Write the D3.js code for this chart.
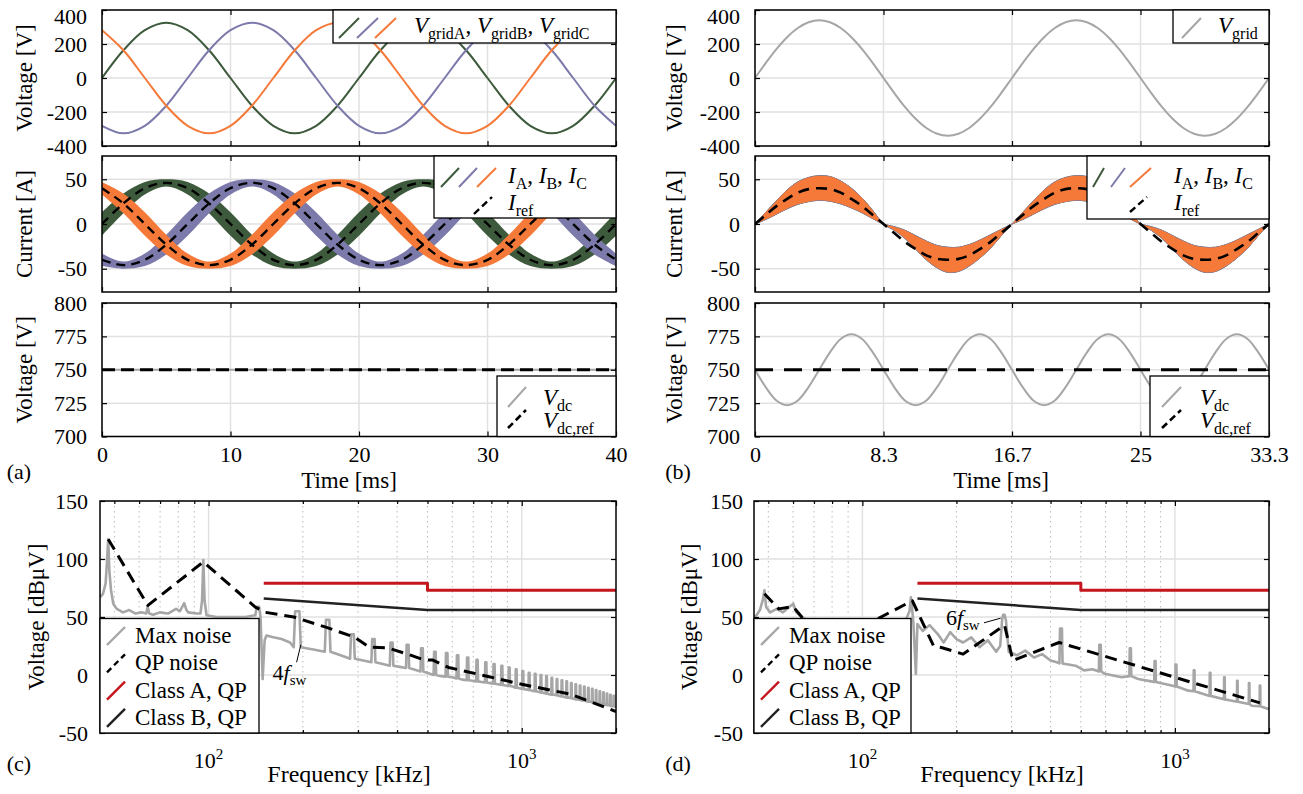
<!DOCTYPE html>
<html>
<head>
<meta charset="utf-8">
<title>Converter waveforms and conducted emissions</title>
<script src="https://cdn.jsdelivr.net/npm/d3@7/dist/d3.min.js"></script>
<style>
  body { margin: 0; background: #fff; }
  svg { font-family: 'Liberation Serif', 'Times New Roman', serif; }
  text, tspan { white-space: pre; }
</style>
</head>
<body>
<svg id="fig" width="1303" height="794"></svg>
<script>
// ---- (a) three-phase, 50 Hz, samples every 1.667 ms ----
const tA = [0, 1.667, 3.333, 5, 6.667, 8.333, 10, 11.667, 13.333, 15, 16.667, 18.333, 20, 21.667, 23.333, 25, 26.667, 28.333, 30, 31.667, 33.333, 35, 36.667, 38.333, 40]
const vGridA = [0, 163, 281, 325, 281, 163, 0, -163, -281, -325, -281, -163, 0, 163, 281, 325, 281, 163, 0, -163, -281, -325, -281, -163, 0]
const vGridB = [-281, -325, -281, -163, 0, 163, 281, 325, 281, 163, 0, -163, -281, -325, -281, -163, 0, 163, 281, 325, 281, 163, 0, -163, -281]
const vGridC = [281, 163, 0, -163, -281, -325, -281, -163, 0, 163, 281, 325, 281, 163, 0, -163, -281, -325, -281, -163, 0, 163, 281, 325, 281]
const iA = [0, 23, 40, 46, 40, 23, 0, -23, -40, -46, -40, -23, 0, 23, 40, 46, 40, 23, 0, -23, -40, -46, -40, -23, 0]
const iB = [-40, -46, -40, -23, 0, 23, 40, 46, 40, 23, 0, -23, -40, -46, -40, -23, 0, 23, 40, 46, 40, 23, 0, -23, -40]
const iC = [40, 23, 0, -23, -40, -46, -40, -23, 0, 23, 40, 46, 40, 23, 0, -23, -40, -46, -40, -23, 0, 23, 40, 46, 40]
// half width of the switching ripple band
const rippleA = [13, 11, 7, 4, 7, 11, 13, 11, 7, 4, 7, 11, 13, 11, 7, 4, 7, 11, 13, 11, 7, 4, 7, 11, 13]
const rippleB = [7, 4, 7, 11, 13, 11, 7, 4, 7, 11, 13, 11, 7, 4, 7, 11, 13, 11, 7, 4, 7, 11, 13, 11, 7]
const rippleC = [7, 11, 13, 11, 7, 4, 7, 11, 13, 11, 7, 4, 7, 11, 13, 11, 7, 4, 7, 11, 13, 11, 7, 4, 7]
const tDcA = [0, 40]
const vDcA = [750, 750]
const vDcRefA = [750, 750]

// ---- (b) single-phase, 60 Hz, samples every 0.694 ms ----
const tB = [0, 0.694, 1.389, 2.083, 2.778, 3.472, 4.167, 4.861, 5.556, 6.25, 6.944, 7.639, 8.333, 9.028, 9.722, 10.417, 11.111, 11.806, 12.5, 13.194, 13.889, 14.583, 15.278, 15.972, 16.667, 17.361, 18.056, 18.75, 19.444, 20.139, 20.833, 21.528, 22.222, 22.917, 23.611, 24.306, 25, 25.694, 26.389, 27.083, 27.778, 28.472, 29.167, 29.861, 30.556, 31.25, 31.944, 32.639, 33.333]
const vGrid1 = [0, 88, 170, 240, 294, 328, 340, 328, 294, 240, 170, 88, 0, -88, -170, -240, -294, -328, -340, -328, -294, -240, -170, -88, 0, 88, 170, 240, 294, 328, 340, 328, 294, 240, 170, 88, 0, -88, -170, -240, -294, -328, -340, -328, -294, -240, -170, -88, 0]
const iOuter1 = [0, 13, 26, 38, 47, 52, 54, 53, 48, 40, 29, 15, 0, -7, -16, -28, -40, -49, -54, -53, -47, -38, -27, -13, 0, 13, 26, 38, 47, 52, 54, 53, 48, 40, 29, 15, 0, -7, -16, -28, -40, -49, -54, -53, -47, -38, -27, -13, 0]
const iInner1 = [0, 5, 11, 17, 22, 25, 26.5, 25.5, 22.5, 18, 12.5, 6, 0, -3, -7, -13, -19, -24, -26, -26, -23, -18, -12, -6, 0, 5, 11, 17, 22, 25, 26.5, 25.5, 22.5, 18, 12.5, 6, 0, -3, -7, -13, -19, -24, -26, -26, -23, -18, -12, -6, 0]
const iRef1 = [0, 10, 20, 28, 35, 39, 40, 39, 35, 28, 20, 10, 0, -10, -20, -28, -35, -39, -40, -39, -35, -28, -20, -10, 0, 10, 20, 28, 35, 39, 40, 39, 35, 28, 20, 10, 0, -10, -20, -28, -35, -39, -40, -39, -35, -28, -20, -10, 0]
const vDc1 = [750, 737, 727, 723.5, 727, 737, 750, 763, 773, 776.5, 773, 763, 750, 737, 727, 723.5, 727, 737, 750, 763, 773, 776.5, 773, 763, 750, 737, 727, 723.5, 727, 737, 750, 763, 773, 776.5, 773, 763, 750, 737, 727, 723.5, 727, 737, 750, 763, 773, 776.5, 773, 763, 750]
const tDcB = [0, 33.333]
const vDcRefB = [750, 750]

// ---- ticks ----
const timeTicksA = [0, 10, 20, 30, 40]
const timeTicksB = [0, 8.333, 16.667, 25, 33.333]
const timeLabelsB = ['0', '8.3', '16.7', '25', '33.3']
const gridTicks = [-400, -200, 0, 200, 400]
const currentTicks = [-50, 0, 50]
const dcTicks = [700, 725, 750, 775, 800]
const dbTicks = [-50, 0, 50, 100, 150]
const freqMajor = [100, 1000]
const freqMinor = [50, 60, 70, 80, 90, 200, 300, 400, 500, 600, 700, 800, 900]

// ---- (c) and (d) spectra, [kHz, dBuV] ----
const noiseC = [[45, 67], [46, 70], [46.9, 79], [47.4, 99], [47.8, 117], [48.2, 90], [48.8, 73], [49.6, 61.5], [50.9, 57], [53.3, 54], [55.8, 56], [58.4, 53], [61.1, 54], [63.2, 53], [63.9, 58.7], [64.6, 53], [66.5, 52], [69.9, 54], [74.2, 53], [78.7, 57], [81, 55], [83.6, 62], [85, 56], [86.1, 54], [91.4, 53], [94.2, 53], [95.3, 64], [96.2, 99], [97.1, 64], [98.5, 51.5], [106, 50], [116, 50], [131, 50], [141, 51.5], [142.5, 58.7], [145, 58.7], [146.5, 50], [148.8, -3.5], [151, 30], [153, 34], [161, 32.5], [171, 31], [182, 28], [216, 22], [264, 17], [312, 12.5], [360, 9.5], [408, 7], [456, 4.5], [504, 1.5], [552, -1], [600, -2], [648, -4], [696, -5], [744, -6], [792, -7], [840, -8], [888, -9], [936, -10], [984, -11.5], [1032, -12.5], [1080, -13.5], [1128, -14.5], [1176, -15.5], [1224, -16.5], [1272, -17], [1320, -18], [1368, -19], [1416, -19.5], [1464, -20.5], [1512, -21], [1560, -22], [1608, -22.5], [1656, -23], [1704, -24], [1752, -24.5], [1800, -25], [1848, -25.5], [1896, -26], [1944, -27], [2000, -27.5]]
// harmonic peaks: [kHz, floor, peak]
const spikesC = [[192, 24, 55], [240, 20, 47.5], [288, 14, 35], [336, 11, 31], [384, 8, 28], [432, 6, 26], [480, 3, 23], [528, 0, 20], [576, -1.5, 19], [624, -3, 17], [672, -4.5, 15], [720, -5.5, 13], [768, -6.5, 11], [816, -7.5, 9.5], [864, -8.5, 8], [912, -9.5, 6.5], [960, -11, 5], [1008, -12, 3.5], [1056, -13, 2], [1104, -14, 1], [1152, -15, 0], [1200, -16, -1], [1248, -17, -2.5], [1296, -17.5, -3.5], [1344, -18.5, -4.5], [1392, -19.5, -5.5], [1440, -20, -7], [1488, -21, -8], [1536, -21.5, -9], [1584, -22, -10], [1632, -23, -11], [1680, -23.5, -12], [1728, -24, -13], [1776, -25, -14], [1824, -25.5, -15], [1872, -26, -16], [1920, -26.5, -17], [1968, -27, -18]]
const qpC = [[47.8, 117], [64, 60], [96.2, 97.5], [141, 58.5], [152, 54], [187, 50], [238, 41], [293, 32.5], [326, 24], [372, 23.5], [432, 18], [488, 13], [518, 13], [584, 6.5], [786, -1.5], [1000, -8], [1430, -16.5], [2000, -31.5]]

const noiseD = [[45, 50], [46, 52], [47, 56], [48, 64.5], [48.6, 73], [49.2, 58.7], [50.7, 54], [53.2, 57], [55.7, 54], [58.3, 58.7], [60.1, 61.5], [61.4, 54], [63.9, 50], [69, 45], [80.6, 40], [94, 40], [113, 42], [128, 45], [138, 48], [141.5, 55], [143, 67], [144.5, 55], [145.6, 45], [148.3, 1], [150, 44], [156, 38], [164, 43], [174, 35.5], [182, 28], [191, 37], [200, 31], [210, 28], [223, 32.5], [237, 24], [252, 30], [268, 20], [276, 25], [280, 48], [282, 52], [285, 52], [288, 47], [294, 20], [312, 17], [332, 21], [354, 15], [376, 18], [400, 12.5], [419, 11], [446, 9.5], [481, 8], [512, 4], [545, 5], [597, 1], [675, -2], [763, -3.5], [840, -5.5], [976, -9], [1105, -13.5], [1270, -17.5], [1508, -22], [1761, -26.5], [2000, -29.5]]
const spikesD = [[432, 10, 40], [576, 3, 26], [720, -1, 23], [864, -6, 12], [1008, -10, 9], [1152, -14, 4], [1296, -18, 2], [1440, -21, -2], [1584, -23, -5], [1728, -25, -7], [1872, -27, -9]]
const qpD = [[48.6, 70], [54, 57], [60, 59], [64, 50], [85, 34], [111, 48], [144.5, 64], [169, 25], [180, 23.5], [210, 18], [285, 43], [303, 12.5], [426, 28], [1870, -24]]

const classA = [[150, 79], [500, 79], [500, 73], [2000, 73]]
const classB = [[150, 66], [500, 56], [2000, 56]]

// ---------------------------------------------------------------
const svg = d3.select('#fig')

const GRID = '#e1e1e1'
const GREEN = '#3e5a3c'
const PURPLE = '#7c7aab'
const ORANGE = '#f57a3a'
const GRAY = '#a6a6a6'
const RED = '#c4161c'

function rich (sel, parts, size) {
  let down = false
  parts.forEach(([t, s]) => {
    const ts = sel.append('tspan').text(t)
    if (s === 'i') ts.attr('font-style', 'italic')
    if (s === 's') {
      ts.attr('font-size', Math.round(size * 0.7))
      if (!down) { ts.attr('dy', size * 0.24); down = true }
    } else if (down) {
      ts.attr('dy', -size * 0.24); down = false
    }
  })
  return sel
}

function addText (x, y, parts, size, anchor) {
  const t = svg.append('text').attr('x', x).attr('y', y)
    .attr('font-size', size).attr('text-anchor', anchor || 'start')
  return rich(t, parts, size)
}

function legendBox (x0, y0, x1, y1) {
  svg.append('rect').attr('x', x0).attr('y', y0)
    .attr('width', x1 - x0).attr('height', y1 - y0)
    .attr('fill', '#fff').attr('stroke', '#000').attr('stroke-width', 1.3)
}

function slash (x0, y0, x1, y1, color, width, dash) {
  svg.append('line').attr('x1', x0).attr('y1', y0).attr('x2', x1).attr('y2', y1)
    .attr('stroke', color).attr('stroke-width', width)
    .attr('stroke-dasharray', dash || null)
}

function panel (opt) {
  const x = opt.log
    ? d3.scaleLog().domain(opt.xDomain).range([opt.x0, opt.x1])
    : d3.scaleLinear().domain(opt.xDomain).range([opt.x0, opt.x1])
  const y = d3.scaleLinear().domain(opt.yDomain).range([opt.y1, opt.y0])
  const g = svg.append('g')
  const id = 'clip-' + opt.name
  g.append('clipPath').attr('id', id).append('rect')
    .attr('x', opt.x0).attr('y', opt.y0)
    .attr('width', opt.x1 - opt.x0).attr('height', opt.y1 - opt.y0)

  const grid = g.append('g')
  if (opt.log) {
    grid.selectAll(null).data(freqMinor).enter().append('line')
      .attr('x1', d => x(d)).attr('x2', d => x(d)).attr('y1', opt.y0).attr('y2', opt.y1)
      .attr('stroke', '#b9b9b9').attr('stroke-width', 1).attr('stroke-dasharray', '1.5,3.5')
  }
  grid.selectAll(null).data(opt.xGrid).enter().append('line')
    .attr('x1', d => x(d)).attr('x2', d => x(d)).attr('y1', opt.y0).attr('y2', opt.y1)
    .attr('stroke', GRID).attr('stroke-width', 1.5)
  grid.selectAll(null).data(opt.yTicks).enter().append('line')
    .attr('x1', opt.x0).attr('x2', opt.x1).attr('y1', d => y(d)).attr('y2', d => y(d))
    .attr('stroke', GRID).attr('stroke-width', 1.5)

  const plot = g.append('g').attr('clip-path', `url(#${id})`)
  const frame = g.append('g')

  frame.append('g').attr('transform', `translate(${opt.x0},0)`)
    .call(d3.axisLeft(y).tickValues(opt.yTicks).tickSize(-5)
      .tickPadding(opt.x0 - opt.labelEnd).tickFormat(d => String(d)))
    // the top label of the grid-voltage plots sits a little low, clear of the page edge
    .call(s => s.selectAll('.tick text').filter(d => d === 400).attr('y', 6))
  frame.append('g').attr('transform', `translate(${opt.x1},0)`)
    .call(d3.axisRight(y).tickValues(opt.yTicks).tickSize(-5).tickFormat(''))
  const xt = opt.log ? freqMajor.concat([2000]) : opt.xTicks
  frame.append('g').attr('transform', `translate(0,${opt.y0})`)
    .call(d3.axisTop(x).tickValues(xt).tickSize(-5).tickFormat(''))
  frame.append('g').attr('transform', `translate(0,${opt.y1})`)
    .call(d3.axisBottom(x).tickValues(xt).tickSize(-5).tickPadding(10)
      .tickFormat(opt.xFormat || ''))
  if (opt.log) {
    frame.append('g').attr('transform', `translate(0,${opt.y0})`)
      .call(d3.axisTop(x).tickValues(freqMinor).tickSize(-3).tickFormat(''))
    frame.append('g').attr('transform', `translate(0,${opt.y1})`)
      .call(d3.axisBottom(x).tickValues(freqMinor).tickSize(-3).tickFormat(''))
  }
  frame.selectAll('.domain').remove()
  frame.selectAll('g').attr('font-family', null).attr('font-size', 22)
  frame.selectAll('.tick line').attr('stroke-width', 1.2)
  frame.append('rect').attr('x', opt.x0).attr('y', opt.y0)
    .attr('width', opt.x1 - opt.x0).attr('height', opt.y1 - opt.y0)
    .attr('fill', 'none').attr('stroke', '#000').attr('stroke-width', 1.5)

  g.append('text')
    .attr('transform', `translate(${opt.titleX},${(opt.y0 + opt.y1) / 2}) rotate(-90)`)
    .attr('text-anchor', 'middle').attr('dy', '0.35em').attr('font-size', 23)
    .text(opt.yTitle)
  return { x, y, plot }
}

function zipLine (p, xs, ys, color, width, dash, curve) {
  p.plot.append('path')
    .datum(xs.map((t, i) => [t, ys[i]]))
    .attr('fill', 'none').attr('stroke', color).attr('stroke-width', width)
    .attr('stroke-dasharray', dash || null)
    .attr('d', d3.line().x(d => p.x(d[0])).y(d => p.y(d[1])).curve(curve || d3.curveCatmullRom))
}

function band (p, xs, lo, hi, color, outline) {
  p.plot.append('path')
    .datum(xs.map((t, i) => [t, lo[i], hi[i]]))
    .attr('fill', color).attr('stroke', outline ? color : 'none').attr('stroke-width', 0.9)
    .attr('d', d3.area().x(d => p.x(d[0])).y0(d => p.y(d[1])).y1(d => p.y(d[2]))
      .curve(d3.curveCatmullRom))
}

function pairLine (p, pts, color, width, dash) {
  p.plot.append('path').datum(pts)
    .attr('fill', 'none').attr('stroke', color).attr('stroke-width', width)
    .attr('stroke-dasharray', dash || null).attr('stroke-linejoin', 'round')
    .attr('d', d3.line().x(d => p.x(d[0])).y(d => p.y(d[1])))
}

function withSpikes (floor, spikes) {
  const pts = floor.slice()
  spikes.forEach(([f, b, pk]) => {
    pts.push([f - 5, b], [f - 3, pk], [f + 3, pk], [f + 5, b])
  })
  return pts.sort((a, b) => a[0] - b[0])
}

// ---------------- column (a) ----------------
const colA = { x0: 102, x1: 616, labelEnd: 87, titleX: 24 }
const colB = { x0: 755, x1: 1269, labelEnd: 740, titleX: 674 }

const a1 = panel(Object.assign({}, colA, {
  name: 'a1', y0: 10, y1: 146, xDomain: [0, 40], xTicks: timeTicksA, xGrid: timeTicksA,
  yDomain: [-400, 400], yTicks: gridTicks, yTitle: 'Voltage [V]'
}))
zipLine(a1, tA, vGridA, GREEN, 2)
zipLine(a1, tA, vGridB, PURPLE, 2)
zipLine(a1, tA, vGridC, ORANGE, 2)

const a2 = panel(Object.assign({}, colA, {
  name: 'a2', y0: 156, y1: 292, xDomain: [0, 40], xTicks: timeTicksA, xGrid: timeTicksA,
  yDomain: [-76, 76], yTicks: currentTicks, yTitle: 'Current [A]'
}))
band(a2, tA, iA.map((v, i) => v - rippleA[i]), iA.map((v, i) => v + rippleA[i]), GREEN)
band(a2, tA, iB.map((v, i) => v - rippleB[i]), iB.map((v, i) => v + rippleB[i]), PURPLE)
band(a2, tA, iC.map((v, i) => v - rippleC[i]), iC.map((v, i) => v + rippleC[i]), ORANGE)
zipLine(a2, tA, iA, '#000', 2.4, '9,6')
zipLine(a2, tA, iB, '#000', 2.4, '9,6')
zipLine(a2, tA, iC, '#000', 2.4, '9,6')

const a3 = panel(Object.assign({}, colA, {
  name: 'a3', y0: 303, y1: 436.5, xDomain: [0, 40], xTicks: timeTicksA, xGrid: timeTicksA,
  yDomain: [700, 800], yTicks: dcTicks, yTitle: 'Voltage [V]', xFormat: d => String(d)
}))
zipLine(a3, tDcA, vDcA, GRAY, 2, null, d3.curveLinear)
zipLine(a3, tDcA, vDcRefA, '#000', 3, '13,6', d3.curveLinear)

// ---------------- column (b) ----------------
const b1 = panel(Object.assign({}, colB, {
  name: 'b1', y0: 10, y1: 146, xDomain: [0, 33.333], xTicks: timeTicksB, xGrid: timeTicksB,
  yDomain: [-400, 400], yTicks: gridTicks, yTitle: 'Voltage [V]'
}))
zipLine(b1, tB, vGrid1, GRAY, 2)

const b2 = panel(Object.assign({}, colB, {
  name: 'b2', y0: 156, y1: 292, xDomain: [0, 33.333], xTicks: timeTicksB, xGrid: timeTicksB,
  yDomain: [-76, 76], yTicks: currentTicks, yTitle: 'Current [A]'
}))
band(b2, tB, iInner1, iOuter1, GREEN, true)
band(b2, tB, iInner1, iOuter1, PURPLE, true)
band(b2, tB, iInner1, iOuter1, ORANGE, false)
zipLine(b2, tB, iRef1, '#000', 2.6, '11,7')

const b3 = panel(Object.assign({}, colB, {
  name: 'b3', y0: 303, y1: 436.5, xDomain: [0, 33.333], xTicks: timeTicksB, xGrid: timeTicksB,
  yDomain: [700, 800], yTicks: dcTicks, yTitle: 'Voltage [V]', xFormat: (d, i) => timeLabelsB[i]
}))
zipLine(b3, tB, vDc1, GRAY, 2)
zipLine(b3, tDcB, vDcRefB, '#000', 3, '18,11', d3.curveLinear)

// ---------------- spectra (c), (d) ----------------
function spectrum (col, name, noise, spikes, qp) {
  const p = panel(Object.assign({}, col, {
    name, y0: 501, y1: 733, log: true, xDomain: [45, 2000], xGrid: freqMajor,
    yDomain: [-50, 150], yTicks: dbTicks, yTitle: 'Voltage [dBμV]'
  }))
  pairLine(p, withSpikes(noise, spikes), GRAY, 2.6)
  pairLine(p, qp, '#000', 3, '12,7')
  pairLine(p, classA, RED, 3)
  pairLine(p, classB, '#222', 2.5)
  freqMajor.forEach(f => {
    const t = svg.append('text').attr('x', p.x(f)).attr('y', 768)
      .attr('font-size', 22).attr('text-anchor', 'middle')
    t.append('tspan').text('10')
    t.append('tspan').attr('font-size', 15).attr('dy', -9).text(Math.log10(f))
  })
  return p
}

const c = spectrum({ x0: 100, x1: 616, labelEnd: 88, titleX: 36 }, 'c', noiseC, spikesC, qpC)
const d = spectrum({ x0: 754, x1: 1269, labelEnd: 743, titleX: 689 }, 'd', noiseD, spikesD, qpD)

// annotations
c.plot.append('line').attr('x1', c.x(197)).attr('y1', c.y(26)).attr('x2', c.x(191)).attr('y2', c.y(11))
  .attr('stroke', '#000').attr('stroke-width', 1)
addText(c.x(160), c.y(-4), [['4', ''], ['f', 'i'], ['sw', 's']], 22)
d.plot.append('line').attr('x1', d.x(245)).attr('y1', d.y(45)).attr('x2', d.x(277)).attr('y2', d.y(49))
  .attr('stroke', '#000').attr('stroke-width', 1)
addText(d.x(185), d.y(43), [['6', ''], ['f', 'i'], ['sw', 's']], 22)

// ---------------- legends ----------------
legendBox(333, 10, 616, 43)
slash(339, 38, 359, 18, GREEN, 2)
slash(357, 38, 378, 18, PURPLE, 2)
slash(375, 38, 396, 18, ORANGE, 2)
addText(414, 33, [['V', 'i'], ['gridA', 's'], [', ', ''], ['V', 'i'], ['gridB', 's'], [', ', ''], ['V', 'i'], ['gridC', 's']], 23)

legendBox(434, 156, 616, 218)
slash(441, 187, 459, 168, GREEN, 2)
slash(459, 187, 477, 168, PURPLE, 2)
slash(477, 187, 496, 168, ORANGE, 2)
addText(508, 183, [['I', 'i'], ['A', 's'], [', ', ''], ['I', 'i'], ['B', 's'], [', ', ''], ['I', 'i'], ['C', 's']], 23)
slash(474, 214, 492, 197, '#000', 2.4, '7,4')
addText(508, 210, [['I', 'i'], ['ref', 's']], 23)

legendBox(497, 376, 616, 436.5)
slash(508, 407, 526, 387, GRAY, 2)
slash(508, 428, 526, 410, '#000', 2.6, '7,4')
addText(543, 405, [['V', 'i'], ['dc', 's']], 23)
addText(543, 428, [['V', 'i'], ['dc,ref', 's']], 23)

legendBox(1173, 10, 1269, 43)
slash(1182, 38, 1201, 18, GRAY, 2)
addText(1218, 33, [['V', 'i'], ['grid', 's']], 23)

legendBox(1087, 156, 1269, 219)
slash(1093, 187, 1104, 168, GREEN, 2)
slash(1111, 187, 1125, 168, PURPLE, 2)
slash(1130, 187, 1151, 168, ORANGE, 2)
addText(1174, 183, [['I', 'i'], ['A', 's'], [', ', ''], ['I', 'i'], ['B', 's'], [', ', ''], ['I', 'i'], ['C', 's']], 23)
slash(1130, 212, 1147, 197, '#000', 2.4, '7,4')
addText(1174, 210, [['I', 'i'], ['ref', 's']], 23)

legendBox(1150, 376, 1269, 436.5)
slash(1162, 407, 1181, 387, GRAY, 2)
slash(1162, 428, 1181, 410, '#000', 2.6, '7,4')
addText(1200, 405, [['V', 'i'], ['dc', 's']], 23)
addText(1200, 428, [['V', 'i'], ['dc,ref', 's']], 23)

const specLegend = [['Max noise', GRAY, null], ['QP noise', '#000', '6,4'], ['Class A, QP', RED, null], ['Class B, QP', '#222', null]]
function spectrumLegend (x0, x1, iconX) {
  legendBox(x0, 618.5, x1, 733)
  specLegend.forEach(([name, color, dash], i) => {
    const base = 643 + i * 27.3
    slash(iconX, base + 2, iconX + 18, base - 16, color, 2.4, dash)
    addText(iconX + 28, base, [[name, '']], 23)
  })
}
spectrumLegend(100, 259, 107)
spectrumLegend(754, 911, 761)

// ---------------- axis titles and panel tags ----------------
addText(349, 488, [['Time [ms]', '']], 23, 'middle')
addText(1001, 488, [['Time [ms]', '']], 23, 'middle')
addText(349, 782, [['Frequency [kHz]', '']], 24, 'middle')
addText(1002, 782, [['Frequency [kHz]', '']], 24, 'middle')
addText(19, 479, [['(a)', '']], 22, 'middle')
addText(678, 479, [['(b)', '']], 22, 'middle')
addText(19, 771, [['(c)', '']], 22, 'middle')
addText(678, 771, [['(d)', '']], 22, 'middle')
</script>
</body>
</html>
